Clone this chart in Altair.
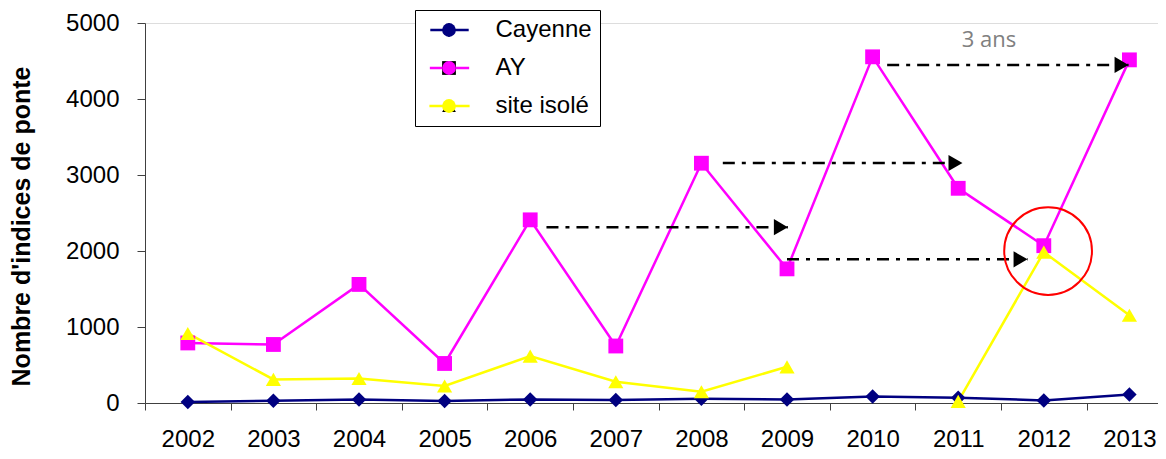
import altair as alt
import pandas as pd

# ---------------- data ----------------
years = list(range(2002, 2014))
series_names = ["Cayenne", "AY", "site isolé"]
cayenne = [13, 30, 47, 26, 47, 39, 55, 47, 87, 70, 34, 113]
ay = [790, 770, 1560, 520, 2410, 750, 3155, 1765, 4555, 2825, 2070, 4515]
site_isole = [915, 310, 323, 223, 617, 280, 148, 476, None, 22, 1985, 1155]

series_colors = ["#000080", "#FF00FF", "#FFFF00"]
series_shapes = ["diamond", "square", "triangle-up"]
series_sizes = [210, 230, 320]

# annotation arrows (start year, tip year, level)
arrow_start = [2006.19, 2008.25, 2009.0, 2010.17]
arrow_end = [2009.01, 2011.05, 2011.81, 2012.99]
arrow_level = [2314, 3158, 1890, 4449]

circle_year = [2012.05]
circle_value = [2000]

note_text = ["3 ans"]
note_year = [2011.36]
note_value = [4776]

x_tick_values = [2001.5 + 0.5 * i for i in range(24)]
y_tick_values = list(range(0, 5001, 500))

# ---------------- tables ----------------
rows = []
for name, vals in zip(series_names, [cayenne, ay, site_isole]):
    seg = 0
    for yr, v in zip(years, vals):
        if v is None:
            seg += 1
            continue
        rows.append({"annee": yr, "valeur": v, "serie": name, "forme": name, "taille": name, "seg": seg})
df = pd.DataFrame(rows)

arrows = pd.DataFrame({"x0": arrow_start, "x1": arrow_end, "lvl": arrow_level})
circle = pd.DataFrame({"annee": circle_year, "valeur": circle_value})
note = pd.DataFrame({"annee": note_year, "valeur": note_value, "t": note_text})

FONT = "Liberation Sans"

x_scale = alt.Scale(domain=[2001.5, 2013.334], nice=False, zero=False)
y_scale = alt.Scale(domain=[0, 5000], nice=False)

x_axis = alt.Axis(
    values=x_tick_values,
    labelExpr="datum.value % 1 === 0 ? format(datum.value, 'd') : ''",
    tickOpacity={"condition": {"test": "datum.value % 1 === 0", "value": 0}, "value": 1},
    tickSize=7,
    labelPadding=17,
    labelFontSize=24,
    labelFont=FONT,
    labelColor="black",
    labelOverlap=False,
    labelFlush=False,
    labelBound=False,
    grid=False,
    title=None,
    domainColor="#404040",
    tickColor="#404040",
)
y_axis = alt.Axis(
    values=y_tick_values,
    format="d",
    tickSize=8,
    labelPadding=18,
    labelFontSize=24,
    labelFont=FONT,
    labelColor="black",
    grid=False,
    title="Nombre d'indices de ponte",
    titleFont=FONT,
    titleFontSize=25,
    titleFontWeight="bold",
    titleColor="black",
    titleX=-111,
    titleY=203,
    titleBaseline="bottom",
    titleAlign="center",
    domainColor="#404040",
    tickColor="#404040",
)

# legend built from two overlaid legends: lines (with box and labels) + markers
legend_lines = alt.Legend(
    orient="none",
    legendX=270,
    legendY=-13,
    title=None,
    labelFontSize=24,
    labelFont=FONT,
    labelColor="black",
    symbolType="M-2.65,0L2.65,0",
    symbolSize=400,
    symbolStrokeWidth=2.5,
    symbolOpacity=1,
    symbolOffset=14.5,
    labelOffset=34,
    rowPadding=14,
    padding=8,
    strokeColor="black",
    fillColor="white",
    zindex=1,
)
legend_marks = alt.Legend(
    orient="none",
    legendX=270,
    legendY=-13,
    title=None,
    labelFontSize=24,
    labelFont=FONT,
    labelOpacity=0,
    symbolSize=190,
    symbolStrokeWidth=0,
    symbolOpacity=1,
    symbolOffset=14,
    clipHeight=24,
    labelOffset=3,
    rowPadding=14,
    padding=8,
    strokeColor="transparent",
    fillColor="transparent",
    zindex=2,
)

base = alt.Chart(df)

lines = base.mark_line(strokeWidth=2.5).encode(
    x=alt.X("annee:Q", scale=x_scale, axis=x_axis),
    y=alt.Y("valeur:Q", scale=y_scale, axis=y_axis),
    stroke=alt.Stroke("serie:N", scale=alt.Scale(domain=series_names, range=series_colors), legend=legend_lines),
    detail="seg:N",
    order="annee:Q",
)

points = base.mark_point(filled=True, opacity=1, strokeWidth=0).encode(
    x=alt.X("annee:Q", scale=x_scale),
    y=alt.Y("valeur:Q", scale=y_scale),
    fill=alt.Fill("forme:N", sort=series_names, scale=alt.Scale(range=series_colors), legend=legend_marks),
    shape=alt.Shape("forme:N", sort=series_names, scale=alt.Scale(range=series_shapes), legend=legend_marks),
    size=alt.Size("taille:N", scale=alt.Scale(domain=series_names, range=series_sizes), legend=None),
)

arrow_lines = alt.Chart(arrows).mark_rule(
    color="black", strokeWidth=2.5, strokeDash=[12, 7, 4, 7]
).encode(
    x=alt.X("x0:Q", scale=x_scale),
    x2="x1:Q",
    y=alt.Y("lvl:Q", scale=y_scale),
)

arrow_heads = alt.Chart(arrows).mark_point(
    shape="triangle-right", filled=True, color="black", size=260, opacity=1, xOffset=-7
).encode(
    x=alt.X("x1:Q", scale=x_scale),
    y=alt.Y("lvl:Q", scale=y_scale),
)

ring = alt.Chart(circle).mark_point(
    shape="circle", filled=False, color="#FF0000", size=7700, strokeWidth=2, opacity=1
).encode(
    x=alt.X("annee:Q", scale=x_scale),
    y=alt.Y("valeur:Q", scale=y_scale),
)

label = alt.Chart(note).mark_text(
    font="Open Sans", fontSize=22, color="#808080", align="center", baseline="middle"
).encode(
    x=alt.X("annee:Q", scale=x_scale),
    y=alt.Y("valeur:Q", scale=y_scale),
    text="t:N",
)

chart = (
    alt.layer(lines, points, arrow_lines, arrow_heads, ring, label)
    .properties(
        width=1013,
        height=380,
        autosize=alt.AutoSizeParams(type="none"),
        padding={"left": 137, "top": 15, "right": 0, "bottom": 48},
    )
    .configure_view(stroke=None)
    .configure(font=FONT)
)

chart.save("out.html", embed_options={"renderer": "svg", "actions": False})
